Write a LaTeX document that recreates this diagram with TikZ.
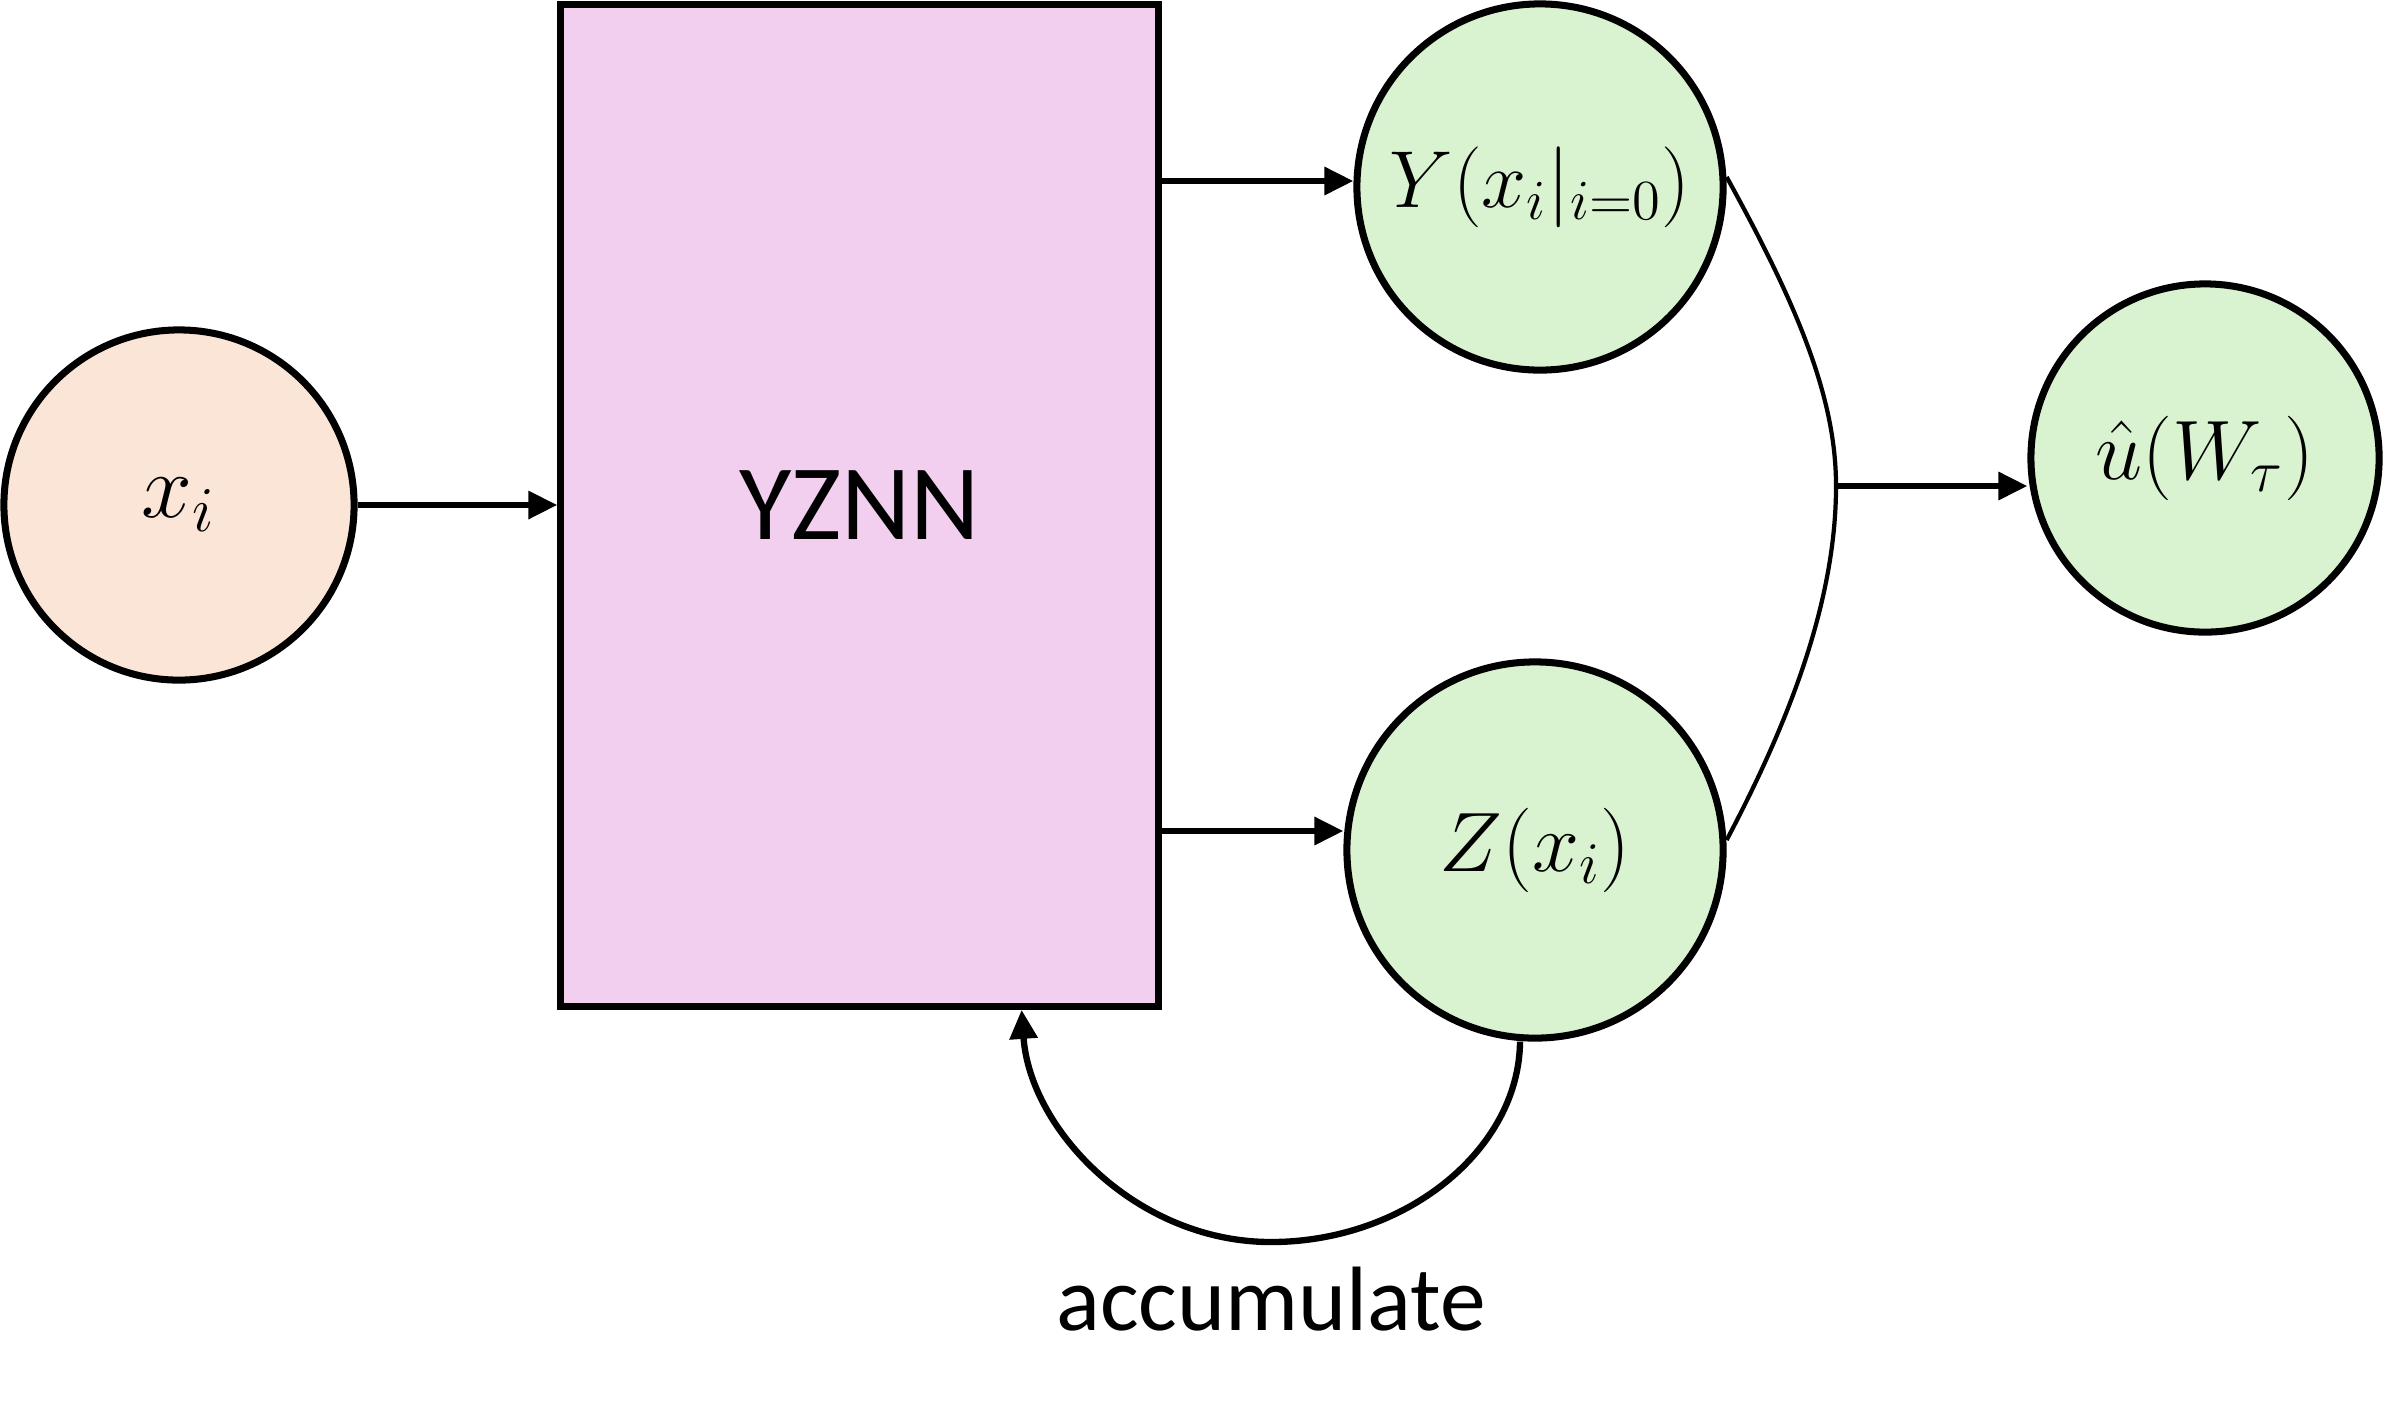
\documentclass[tikz,border=0pt]{standalone}
\usepackage{fix-cm}
\usepackage{fontspec}
\newfontfamily\calibri{Carlito}
\usetikzlibrary{arrows.meta,calc}
\definecolor{peach}{HTML}{FBE5D6}
\definecolor{pinkbox}{HTML}{F2CEEF}
\definecolor{lgreen}{HTML}{D9F2D0}
\begin{document}
\begin{tikzpicture}[x=0.01cm,y=-0.01cm,
  circ/.style={circle,draw=black,line width=2pt,inner sep=0pt},
  arr/.style={line width=1.8pt,-{Triangle[length=2.9mm,width=2.7mm]}},
  mergeline/.style={line width=1.2pt}]
\useasboundingbox (0,0) rectangle (2383,1411);
\node[circ,fill=peach,minimum size=3.50cm] (x) at (179,505) {\fontsize{26}{30}\selectfont$x_i$};
\node[draw,line width=2pt,fill=pinkbox,minimum width=5.97cm,minimum height=10.01cm,inner sep=0pt] (nn) at (859.5,505.5) {\calibri\fontsize{30.5}{36}\selectfont YZNN};
\node[circ,fill=lgreen,minimum size=3.66cm] (Y) at (1540,187) {\fontsize{23}{27}\selectfont$Y(x_i|_{i=0})$};
\node[circ,fill=lgreen,minimum size=3.76cm] (Z) at (1535,850) {\fontsize{24}{28}\selectfont$Z(x_i)$};
\node[circ,fill=lgreen,minimum size=3.48cm] (U) at (2205,458) {\fontsize{24}{28}\selectfont$\hat{u}(W_\tau)$};
\node[anchor=base] (acc) at (1271,1330) {\calibri\fontsize{26}{31}\selectfont accumulate};
% arrows
\draw[arr] (x.east) -- (x.east -| nn.west);
\coordinate (yin) at ([yshift=0.06cm]Y.west);
\draw[arr] (nn.east |- yin) -- (yin);
\coordinate (zin) at ([yshift=0.19cm]Z.west);
\draw[arr] (nn.east |- zin) -- (zin);
% merge
\coordinate (m) at (1836,486);
\draw[mergeline] ([yshift=0.1cm]Y.east) .. controls (1800,310) and (1836,400) .. (m) .. controls (1836,600) and (1790,720) .. ([yshift=0.1cm]Z.east);
\draw[arr] (m) -- (m -| U.west);
% feedback
\coordinate (fbs) at ([xshift=-0.15cm]Z.south);
\coordinate (fbe) at ([xshift=4.64cm]nn.south west);
\draw[arr] (fbs) .. controls (1519,1150) and (1405,1242) .. (1271,1242) .. controls (1137,1242) and (1030,1130) .. (fbe);
\end{tikzpicture}
\end{document}
